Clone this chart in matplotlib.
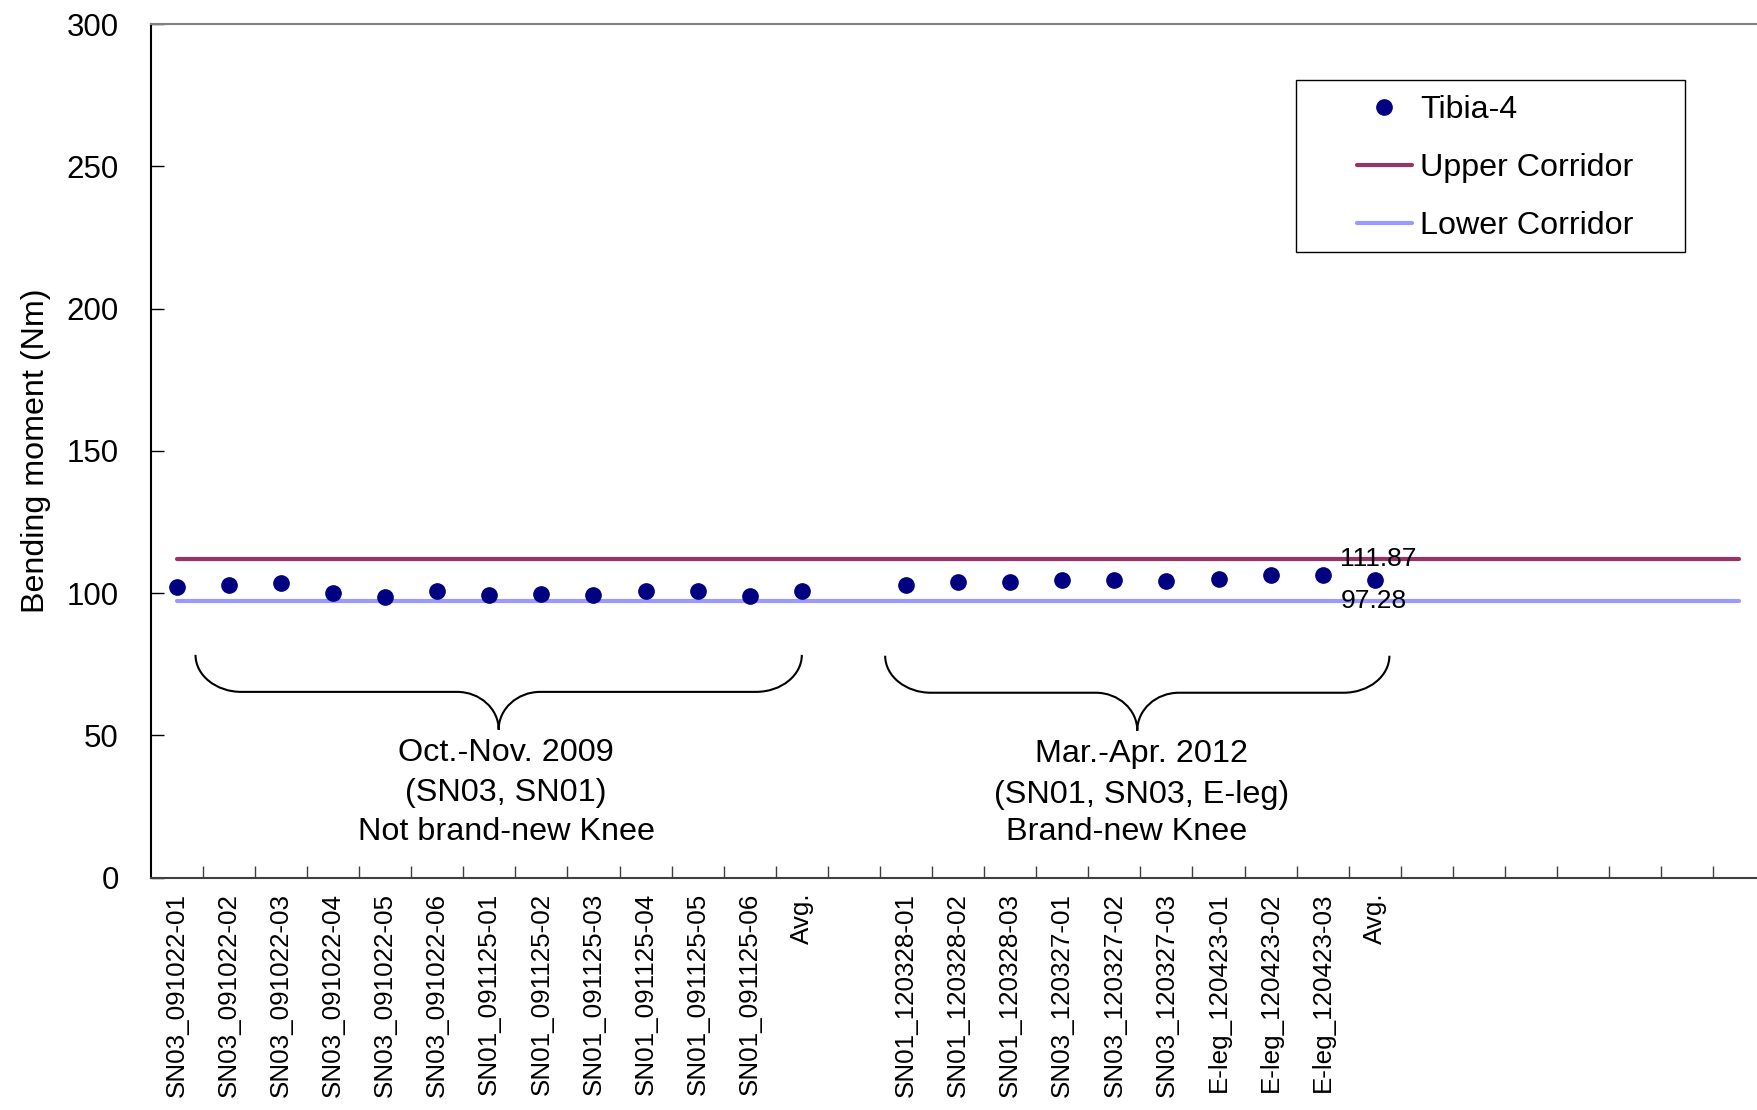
import matplotlib
matplotlib.use("Agg")
import matplotlib.pyplot as plt
from matplotlib.path import Path
from matplotlib.patches import PathPatch, Rectangle
from matplotlib.lines import Line2D

plt.rcParams['font.family'] = ['Liberation Sans', 'DejaVu Sans']

# ---- data ----
group1_labels = ["SN03_091022-01", "SN03_091022-02", "SN03_091022-03",
                 "SN03_091022-04", "SN03_091022-05", "SN03_091022-06",
                 "SN01_091125-01", "SN01_091125-02", "SN01_091125-03",
                 "SN01_091125-04", "SN01_091125-05", "SN01_091125-06", "Avg."]
group1_values = [102.2, 102.8, 103.4, 100.0, 98.8, 100.7,
                 99.2, 99.6, 99.5, 100.8, 100.9, 98.9, 100.6]

group2_labels = ["SN01_120328-01", "SN01_120328-02", "SN01_120328-03",
                 "SN03_120327-01", "SN03_120327-02", "SN03_120327-03",
                 "E-leg_120423-01", "E-leg_120423-02", "E-leg_120423-03", "Avg."]
group2_values = [102.8, 104.0, 104.0, 104.5, 104.6, 104.3,
                 105.1, 106.3, 106.2, 104.6]

n_blank_tail = 7
upper_corridor = 111.87
lower_corridor = 97.28
y_ticks = [0, 50, 100, 150, 200, 250, 300]

# category layout: group 1, one empty slot, group 2, empty slots at the end
categories = group1_labels + [""] + group2_labels + [""] * n_blank_tail
values = group1_values + [None] + group2_values + [None] * n_blank_tail
n_cat = len(categories)
xs = list(range(n_cat))

W, H = 1758, 1110
fig = plt.figure(figsize=(W / 100, H / 100), dpi=100)
cat_w = 52.09
left_px, top_px, bottom_px = 150.7, 24.0, 877.7
ax = fig.add_axes([left_px / W, 1 - bottom_px / H,
                   n_cat * cat_w / W, (bottom_px - top_px) / H])

# corridors spanning all category centres
ax.plot([xs[0], xs[-1]], [upper_corridor] * 2, color="#993366", lw=3.0,
        solid_capstyle="round", label="Upper Corridor", zorder=2)
ax.plot([xs[0], xs[-1]], [lower_corridor] * 2, color="#9999FF", lw=3.0,
        solid_capstyle="round", label="Lower Corridor", zorder=2)

px = [x for x, v in zip(xs, values) if v is not None]
py = [v for v in values if v is not None]
ax.plot(px, py, linestyle="none", marker="o", markersize=11,
        color="#000080", label="Tibia-4", zorder=3)

# corridor value labels next to the second average
avg2_x = xs[len(group1_labels) + 1 + len(group2_labels) - 1]
ax.text(avg2_x - 0.66, upper_corridor, f"{upper_corridor:.2f}", fontsize=19,
        ha="left", va="center", zorder=4)
ax.text(avg2_x - 0.66, lower_corridor, f"{lower_corridor:.2f}", fontsize=19,
        ha="left", va="center", zorder=4)

ax.set_xlim(-0.5, n_cat - 0.5)
ax.set_ylim(0, 300)
ax.set_yticks(y_ticks)
ax.set_yticklabels([str(t) for t in y_ticks])
ax.tick_params(axis="y", direction="in", length=9, width=1, pad=23,
               labelsize=22.5)

# category labels at centres, tick marks on the boundaries
ax.set_xticks(xs)
ax.set_xticklabels(categories, rotation=90, fontsize=18.7)
ax.tick_params(axis="x", which="major", length=0, pad=11)
ax.set_xticks([i + 0.5 for i in range(n_cat)], minor=True)
ax.tick_params(axis="x", which="minor", direction="in", length=9, width=1,
               color="#404040")

ax.spines["left"].set_color("black")
ax.spines["bottom"].set_color("#404040")
ax.spines["top"].set_color("#808080")
for s in ax.spines.values():
    s.set_linewidth(1.5)

ax.set_ylabel("Bending moment (Nm)", fontsize=23.2)
ax.yaxis.set_label_coords(-0.062, 0.5)


def brace(ax, left, right, y_top, y_mid, y_tip, corner, centre):
    tip = (left + right) / 2
    k = 0.5523
    verts = [
        (left, y_top),
        (left, y_top - k * (y_top - y_mid)), (left + corner - k * corner, y_mid), (left + corner, y_mid),
        (tip - centre, y_mid),
        (tip - centre + k * centre, y_mid), (tip, y_tip + k * (y_mid - y_tip)), (tip, y_tip),
        (tip, y_tip + k * (y_mid - y_tip)), (tip + centre - k * centre, y_mid), (tip + centre, y_mid),
        (right - corner, y_mid),
        (right - corner + k * corner, y_mid), (right, y_top - k * (y_top - y_mid)), (right, y_top),
    ]
    codes = ([Path.MOVETO] + [Path.CURVE4] * 3 + [Path.LINETO] + [Path.CURVE4] * 3
             + [Path.CURVE4] * 3 + [Path.LINETO] + [Path.CURVE4] * 3)
    ax.add_patch(PathPatch(Path(verts, codes), fill=False, lw=1.5,
                           edgecolor="black", zorder=2))


brace(ax, 0.36, 12.0, 78.3, 65.3, 52.0, 0.88, 0.8)
brace(ax, 13.6, 23.28, 78.0, 65.0, 51.7, 0.88, 0.8)

note_size = 23.3
for txt, x, y in [("Oct.-Nov. 2009", 6.31, 43.8),
                  ("(SN03, SN01)", 6.31, 29.6),
                  ("Not brand-new Knee", 6.33, 16.2),
                  ("Mar.-Apr. 2012", 18.53, 43.5),
                  ("(SN01, SN03, E-leg)", 18.53, 29.1),
                  ("Brand-new Knee", 18.23, 16.2)]:
    ax.text(x, y, txt, fontsize=note_size, ha="center", va="center")

# legend with its own frame
frame = Rectangle((1296 / W, 1 - 252 / H), (1685 - 1296) / W, (252 - 79.6) / H,
                  transform=fig.transFigure, fill=False, edgecolor="black",
                  lw=1.0, zorder=5)
fig.patches.append(frame)
handles = [
    Line2D([], [], linestyle="none", marker="o", markersize=11, color="#000080"),
    Line2D([], [], color="#993366", lw=3.0, solid_capstyle="round"),
    Line2D([], [], color="#9999FF", lw=3.0, solid_capstyle="round"),
]
leg = fig.legend(handles, ["Tibia-4", "Upper Corridor", "Lower Corridor"],
                 loc="upper left", bbox_to_anchor=(1357 / W, 1 - 95 / H),
                 frameon=False, fontsize=23.2, handlelength=1.7,
                 handletextpad=0.25, labelspacing=0.87, borderpad=0.0,
                 borderaxespad=0.0)

fig.savefig("out.png", dpi=100)
